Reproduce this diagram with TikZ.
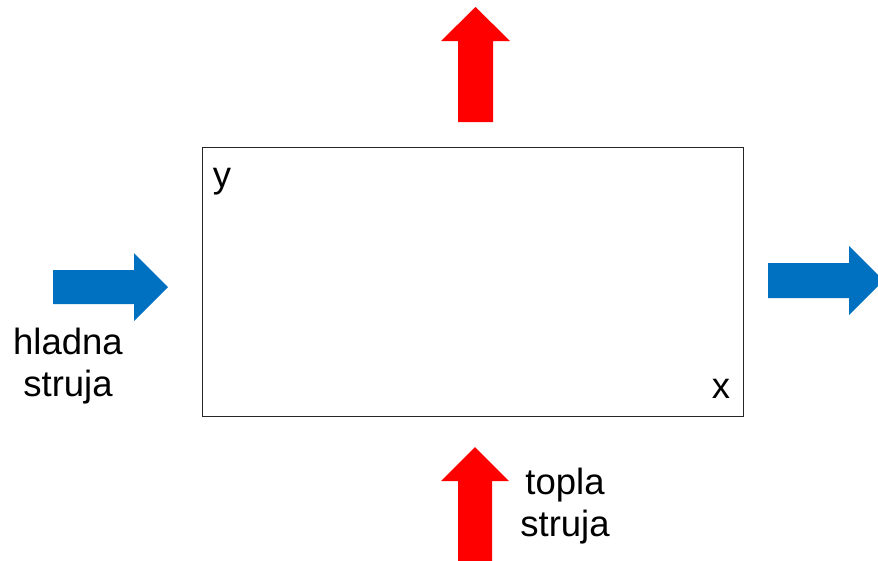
\documentclass[tikz,border=0pt]{standalone}
\usepackage{fontspec}
\setmainfont{Liberation Sans}
\definecolor{hotred}{RGB}{255,0,0}
\definecolor{coldblue}{RGB}{0,112,192}
\begin{document}
\begin{tikzpicture}[x=1pt,y=-1pt,
  hotarrow/.style={fill=hotred,draw=none},
  coldarrow/.style={fill=coldblue,draw=none},
  lbl/.style={font=\fontsize{36.5}{42}\selectfont,inner sep=0pt,align=center,anchor=base},
  axislbl/.style={font=\fontsize{36.5}{42}\selectfont,inner sep=0pt,anchor=base}]
\useasboundingbox (0,0) rectangle (878,560);
% exchanger box
\node[draw=black!85,line width=1pt,minimum width=541pt,minimum height=269pt,inner sep=0pt,anchor=north west] (box) at (201.5,147) {};
\node[axislbl] (ylab) at (222,187) {y};
\node[axislbl] (xlab) at (721,398) {x};
% top hot arrow (out)
\fill[hotarrow] (458,122) -- (458,41) -- (441,41) -- (475.5,7) -- (510,41) -- (493,41) -- (493,122) -- cycle;
% bottom hot arrow (in)
\fill[hotarrow] (458,565) -- (458,481) -- (441,481) -- (475,447) -- (509,481) -- (492,481) -- (492,565) -- cycle;
% left cold arrow (in)
\fill[coldarrow] (53,270) -- (134,270) -- (134,253) -- (168,287) -- (134,321) -- (134,304) -- (53,304) -- cycle;
% right cold arrow (out)
\fill[coldarrow] (768,263) -- (849,263) -- (849,246) -- (883.5,280.5) -- (849,315) -- (849,298) -- (768,298) -- cycle;
% labels (base anchor = baseline of last line)
\node[lbl] (cold) at (68,396) {hladna\\struja};
\node[lbl] (hot) at (565,536) {topla\\struja};
\end{tikzpicture}
\end{document}
